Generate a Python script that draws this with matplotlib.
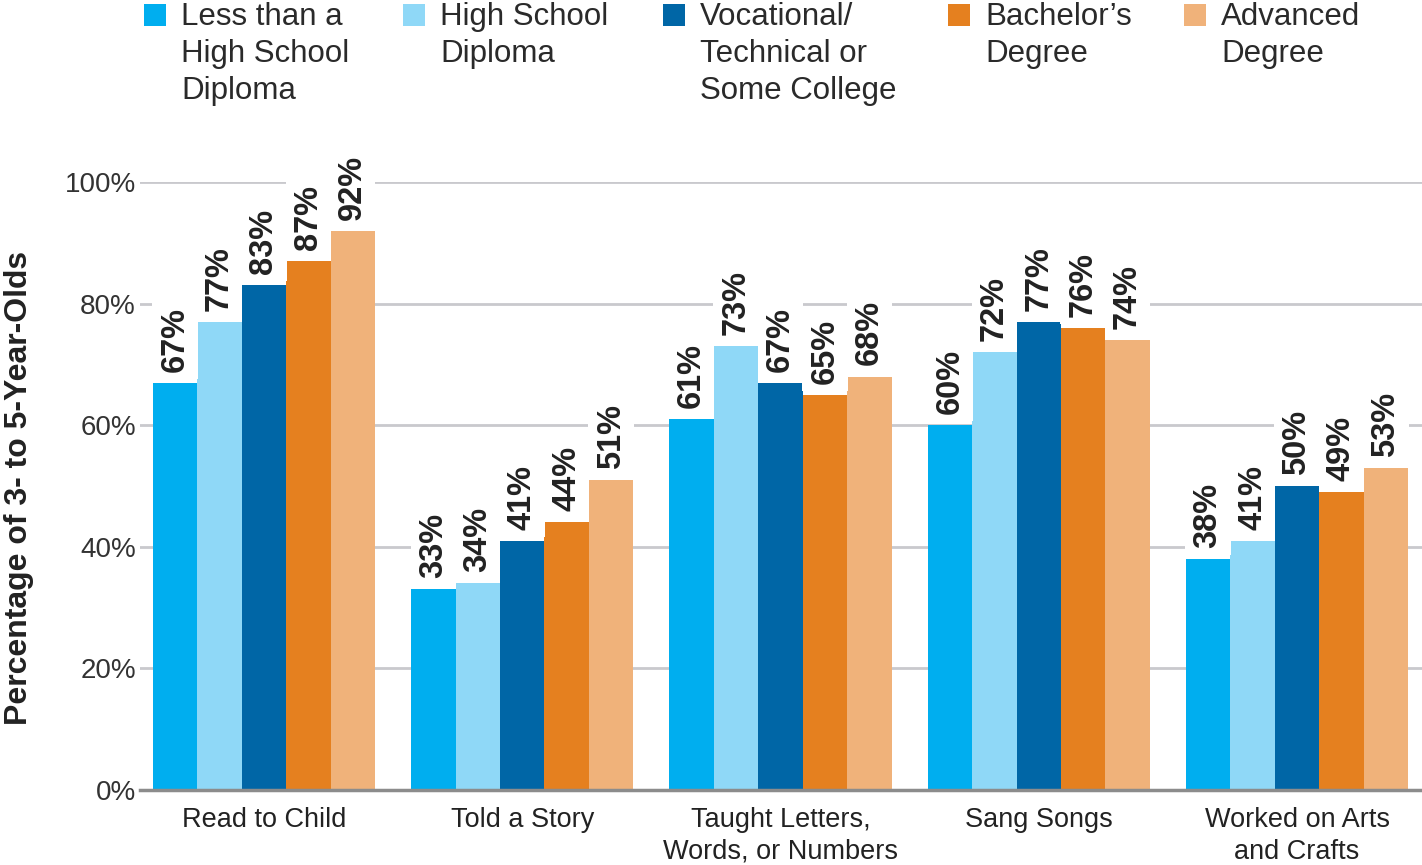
import matplotlib.pyplot as plt
import numpy as np
from matplotlib.patches import Rectangle

plt.rcParams['font.family'] = ['Liberation Sans', 'DejaVu Sans']

# Activities and education levels
activities = ['Read to Child', 'Told a Story', 'Taught Letters,\nWords, or Numbers',
              'Sang Songs', 'Worked on Arts\nand Crafts']
levels = ['Less than a\nHigh School\nDiploma', 'High School\nDiploma',
          'Vocational/\nTechnical or\nSome College', 'Bachelor\u2019s\nDegree',
          'Advanced\nDegree']
colors = ['#00AEEF', '#8FD8F7', '#0066A6', '#E5801F', '#F0B27A']

less_than_hs = [67, 33, 61, 60, 38]
high_school = [77, 34, 73, 72, 41]
some_college = [83, 41, 67, 77, 50]
bachelors = [87, 44, 65, 76, 49]
advanced = [92, 51, 68, 74, 53]
series = [less_than_hs, high_school, some_college, bachelors, advanced]

W, H = 1422, 865
fig = plt.figure(figsize=(W / 100, H / 100), dpi=100)
ax = fig.add_axes([140 / W, 1 - 790 / H, 1 - 140 / W, (790 - 182) / H])

x = np.arange(len(activities))
width = 0.172
for i, (vals, color) in enumerate(zip(series, colors)):
    pos = x + (i - 2) * width
    ax.bar(pos, vals, width=width, color=color, zorder=2)
    for px, v in zip(pos, vals):
        # value labels sit on a white box so the gridlines break around them
        ax.annotate(f'{v}%', xy=(px, v), xytext=(0, 8), textcoords='offset points',
                    rotation=90, ha='center', va='bottom', fontsize=23.5,
                    fontweight='bold', color='#222222', annotation_clip=False,
                    zorder=4,
                    bbox=dict(boxstyle='square,pad=0.22', facecolor='white',
                              edgecolor='none'))

ax.set_xlim(-0.48, 4.484)
ax.set_ylim(0, 100)
ticks = [0, 20, 40, 60, 80, 100]
ax.set_yticks(ticks)
ax.set_yticklabels([f'{t}%' for t in ticks])
ax.set_xticks(x)
ax.set_xticklabels(activities, linespacing=1.3)
ax.tick_params(axis='y', length=0, pad=3, labelsize=20, labelcolor='#333333')
ax.tick_params(axis='x', length=0, pad=12, labelsize=19.5, labelcolor='#222222')
for t in ticks[1:]:
    ax.axhline(t, color='#C9C9CD', linewidth=2, zorder=1)
for side in ['top', 'right', 'left']:
    ax.spines[side].set_visible(False)
ax.spines['bottom'].set_color('#8C8C8C')
ax.spines['bottom'].set_linewidth(2.5)
ax.spines['bottom'].set_zorder(3)

fig.text(4 / W, 1 - 488 / H, 'Percentage of 3- to 5-Year-Olds', rotation=90,
         ha='left', va='center', fontsize=23, fontweight='bold', color='#222222')

# Legend along the top
sq_x = [144, 403, 663, 948, 1184]
txt_x = [181, 440, 700, 985, 1221]
for label, color, sx, tx in zip(levels, colors, sq_x, txt_x):
    fig.patches.append(Rectangle((sx / W, 1 - 26 / H), 22 / W, 22 / H,
                                 transform=fig.transFigure, facecolor=color,
                                 edgecolor='none'))
    fig.text(tx / W, 1 - 2 / H, label, ha='left', va='top', fontsize=22.5,
             color='#2A2A2A', linespacing=1.3)

fig.savefig('out.png', dpi=100)
